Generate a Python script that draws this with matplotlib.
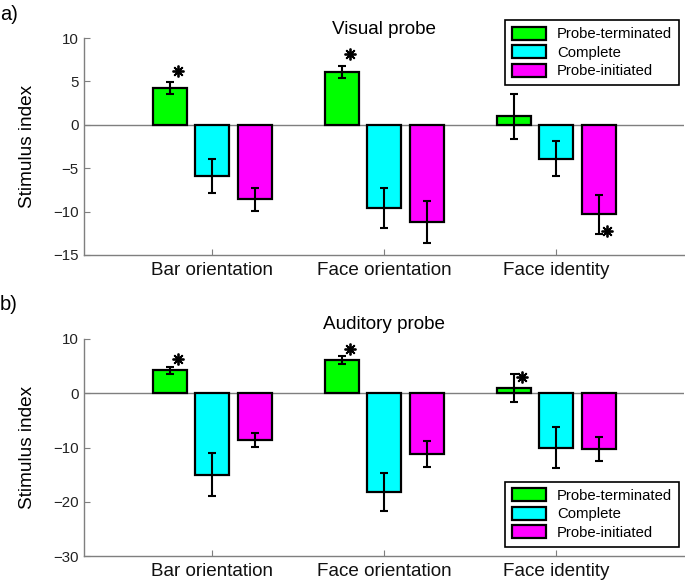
import numpy as np
import matplotlib
matplotlib.use('Agg')
import matplotlib.pyplot as plt

plt.rcParams['font.family'] = ['Liberation Sans', 'DejaVu Sans']

categorias = ['Bar orientation', 'Face orientation', 'Face identity']
series = ['Probe-terminated', 'Complete', 'Probe-initiated']
colores = ['#00ff00', '#00ffff', '#ff00ff']

# panel a) visual probe
term_vis = [4.2, 6.1, 1.0]
term_vis_err = [0.7, 0.7, 2.6]
comp_vis = [-5.9, -9.6, -3.9]
comp_vis_err = [2.0, 2.3, 2.0]
init_vis = [-8.6, -11.2, -10.3]
init_vis_err = [1.35, 2.4, 2.25]

# panel b) auditory probe
term_aud = [4.2, 6.1, 1.0]
term_aud_err = [0.7, 0.7, 2.6]
comp_aud = [-15.0, -18.2, -10.0]
comp_aud_err = [4.0, 3.45, 3.8]
init_aud = [-8.6, -11.2, -10.3]
init_aud_err = [1.35, 2.4, 2.25]

# asteriscos: (categoria, serie, y)
estrellas_vis = [(0, 0, 6.2), (1, 0, 8.2), (2, 2, -12.2)]
estrellas_aud = [(0, 0, 6.4), (1, 0, 8.2), (2, 0, 3.0)]

yticks_vis = [-15, -10, -5, 0, 5, 10]
yticks_aud = [-30, -20, -10, 0, 10]

W, H = 685, 583
fig = plt.figure(figsize=(W / 100, H / 100), dpi=100)

desplaz = [-0.245, 0.0, 0.25]
ancho = 0.2
gris = '#7f7f7f'


def panel(ax, valores, errores, estrellas, yticks, titulo, pad_titulo, leyenda_y):
    x = np.arange(1, len(categorias) + 1)
    for k in range(3):
        ax.bar(x + desplaz[k], valores[k], ancho, color=colores[k],
               edgecolor='black', linewidth=1.6, label=series[k], zorder=3)
        ax.errorbar(x + desplaz[k], valores[k], yerr=errores[k], fmt='none',
                    ecolor='black', elinewidth=1.5, capsize=3, capthick=1.5, zorder=4)
    ax.axhline(0, color=gris, linewidth=1.0, zorder=2)
    for c, s, yv in estrellas:
        ax.plot(x[c] + desplaz[s] + 0.047, yv, marker=(8, 2, 0), markersize=8.5,
                markeredgewidth=1.3, color='black', zorder=5)
    ax.set_xlim(0.256, 3.744)
    ax.set_ylim(yticks[0], yticks[-1])
    ax.set_yticks(yticks)
    ax.set_yticklabels([str(t).replace('-', '\u2212') for t in yticks])
    ax.set_xticks(x)
    ax.set_xticklabels(categorias, fontsize=13.6)
    ax.tick_params(axis='y', direction='in', length=4, color=gris, labelsize=10.8,
                   labelcolor='#222222', pad=4)
    ax.tick_params(axis='x', direction='in', length=4, color=gris, pad=5,
                   labelcolor='#111111')
    for lado in ['top', 'right']:
        ax.spines[lado].set_visible(False)
    for lado in ['left', 'bottom']:
        ax.spines[lado].set_color(gris)
        ax.spines[lado].set_linewidth(1.0)
    ax.set_ylabel('Stimulus index', fontsize=13.7, labelpad=12)
    ax.set_title(titulo, fontsize=13.6, pad=pad_titulo)
    leg = ax.legend(loc='upper right', bbox_to_anchor=(679 / W, 1 - leyenda_y / H),
                    bbox_transform=fig.transFigure, borderaxespad=0,
                    fancybox=False, edgecolor='black', framealpha=1,
                    fontsize=10.7, handlelength=2.3, handleheight=1.0,
                    labelspacing=0.25, handletextpad=0.75, borderpad=0.45)
    leg.get_frame().set_linewidth(1.2)


ax1 = fig.add_axes([84 / W, 1 - 255 / H, 600 / W, 217 / H])
panel(ax1, [term_vis, comp_vis, init_vis], [term_vis_err, comp_vis_err, init_vis_err],
      estrellas_vis, yticks_vis, 'Visual probe', 3, 20)

ax2 = fig.add_axes([84 / W, 1 - 556 / H, 600 / W, 217 / H])
panel(ax2, [term_aud, comp_aud, init_aud], [term_aud_err, comp_aud_err, init_aud_err],
      estrellas_aud, yticks_aud, 'Auditory probe', 7, 481.5)

fig.text(0 / W, 1 - 14 / H, 'a)', fontsize=14.5, va='center', ha='left')
fig.text(0 / W, 1 - 305 / H, 'b)', fontsize=14.5, va='center', ha='left')

plt.savefig('out.png', dpi=100)
